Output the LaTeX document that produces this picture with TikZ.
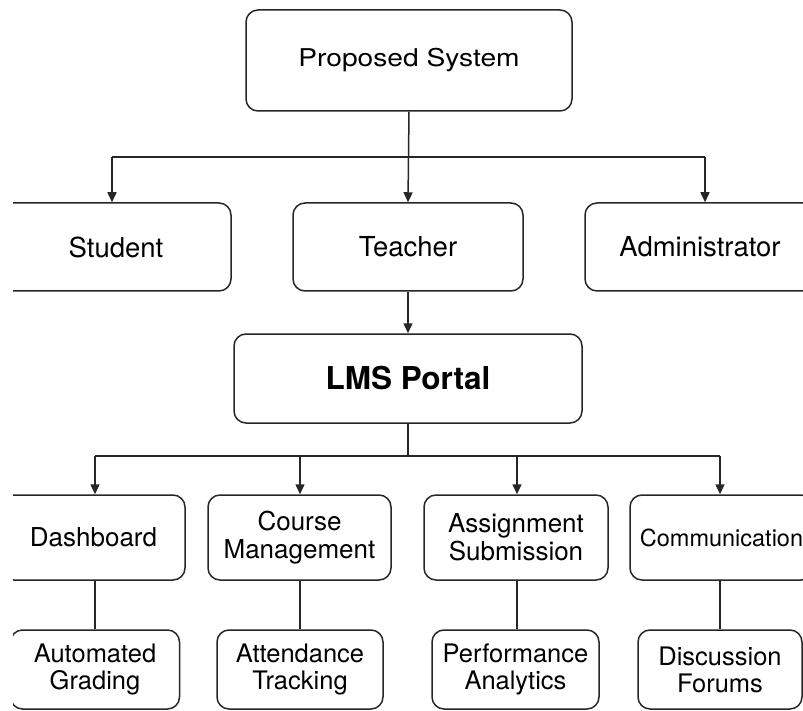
\documentclass[tikz,border=0pt]{standalone}
\usepackage{fontspec}
\setmainfont{TeX Gyre Heros}
\usetikzlibrary{arrows.meta}
\definecolor{linec}{HTML}{262626}
\tikzset{
  box/.style={draw=linec, line width=1.5pt, rounded corners=12pt, align=center, inner sep=0pt, text=black},
  conn/.style={draw=linec, line width=1.5pt},
  arr/.style={conn, -{Triangle[length=10pt,width=9pt]}},
  ftop/.style={font=\fontsize{24.5}{28}\selectfont},
  frow/.style={font=\fontsize{27.5}{30}\selectfont},
  flms/.style={font=\fontsize{31.5}{34}\selectfont\bfseries},
  fthree/.style={font=\fontsize{26}{28}\selectfont},
  ffour/.style={font=\fontsize{25.5}{27}\selectfont}
}
\begin{document}
\begin{tikzpicture}[x=1pt,y=-1pt]
\useasboundingbox (0,0) rectangle (803,711);
\clip (13,0) rectangle (803,711);
% top
\node[box, ftop, minimum width=326pt, minimum height=101pt] (ps) at (409,60.5) {\scalebox{1.15}[1]{Proposed System}};
% row 2
\node[box, frow, minimum width=230pt, minimum height=88pt] (st) at (116,247) {Student};
\node[box, frow, minimum width=230pt, minimum height=88pt] (te) at (408,247) {Teacher};
\node[box, frow, minimum width=230pt, minimum height=88pt] (ad) at (700,247) {Administrator};
% LMS
\node[box, flms, minimum width=348pt, minimum height=89pt] (lms) at (408,378.5) {LMS Portal};
% row 3
\node[box, fthree, minimum width=183pt, minimum height=85pt] (db) at (93.5,537.5) {Dashboard};
\node[box, fthree, minimum width=183pt, minimum height=85pt] (cm) at (299.5,537.5) {Course\\Management};
\node[box, fthree, minimum width=184pt, minimum height=85pt] (as) at (516,537.5) {Assignment\\Submission};
\node[box, font=\fontsize{23.5}{26}\selectfont, minimum width=183pt, minimum height=85pt] (co) at (721.5,537.5) {Communication};
% row 4
\node[box, ffour, minimum width=169pt, minimum height=79pt] (ag) at (95,669.5) {Automated\\Grading};
\node[box, ffour, minimum width=166pt, minimum height=79pt] (at) at (300,669.5) {Attendance\\Tracking};
\node[box, ffour, minimum width=167pt, minimum height=79pt] (pa) at (515.5,669.5) {Performance\\Analytics};
\node[box, ffour, minimum width=164pt, minimum height=79pt] (df) at (720,669.5) {Discussion\\Forums};
% connectors top
\coordinate (h1) at (408,157);
\draw[arr] (ps.south) -- (te.north);
\draw[conn] ([xshift=-4pt]st.north |- h1) -- ([xshift=5pt]ad.north |- h1);
\draw[arr] ([xshift=-4pt]st.north |- h1) -- ([xshift=-4pt]st.north);
\draw[arr] ([xshift=5pt]ad.north |- h1) -- ([xshift=5pt]ad.north);
\draw[arr] (te.south) -- (lms.north);
% connectors lms
\coordinate (h2) at (408,456);
\draw[conn] (lms.south) -- (h2);
\draw[conn] ([xshift=1.5pt]db.north |- h2) -- ([xshift=-1.5pt]co.north |- h2);
\draw[arr] ([xshift=1.5pt]db.north |- h2) -- ([xshift=1.5pt]db.north);
\draw[arr] ([xshift=0.5pt]cm.north |- h2) -- ([xshift=0.5pt]cm.north);
\draw[arr] ([xshift=1pt]as.north |- h2) -- ([xshift=1pt]as.north);
\draw[arr] ([xshift=-1.5pt]co.north |- h2) -- ([xshift=-1.5pt]co.north);
% row3 to row4
\draw[conn] (ag.north |- db.south) -- (ag.north);
\draw[conn] (at.north |- cm.south) -- (at.north);
\draw[conn] ([xshift=1.5pt]pa.north |- as.south) -- ([xshift=1.5pt]pa.north);
\draw[conn] (df.north |- co.south) -- (df.north);
\end{tikzpicture}
\end{document}
